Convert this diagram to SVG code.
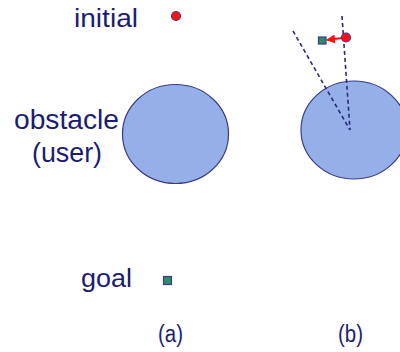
<svg xmlns="http://www.w3.org/2000/svg" width="400" height="352" viewBox="0 0 400 352">
  <style>
    .label { font-family: "Liberation Sans", Arial, sans-serif; fill: #1c1c74; }
    .obstacle { fill: #95afe8; stroke: #3b3b86; stroke-width: 1.2; }
    .start { fill: #ff1010; stroke: #4a3a8c; stroke-width: 1.2; }
    .goal { fill: #2e8b64; stroke: #3b3b86; stroke-width: 1.2; }
    .ray { stroke: #2a2a78; stroke-width: 1.6; stroke-dasharray: 4 3; fill: none; }
    .push { stroke: #ff1010; stroke-width: 2; fill: none; }
  </style>
  <defs>
    <marker id="redHead" viewBox="0 0 10 10" refX="9" refY="5" markerWidth="4.5" markerHeight="4.5" orient="auto">
      <path d="M0,0 L10,5 L0,10 z" fill="#ff1010"/>
    </marker>
  </defs>
  <rect width="400" height="352" fill="#ffffff"/>

  <!-- panel (a) -->
  <g id="label-initial">
    <text class="label" x="74" y="27" font-size="25" textLength="64" lengthAdjust="spacingAndGlyphs">initial</text>
  </g>
  <g id="start-a">
    <circle class="start" cx="176" cy="16" r="4.5"/>
  </g>
  <g id="label-obstacle">
    <text class="label" x="14" y="129" font-size="27" textLength="105" lengthAdjust="spacingAndGlyphs">obstacle</text>
    <text class="label" x="32" y="161.5" font-size="27" textLength="70" lengthAdjust="spacingAndGlyphs">(user)</text>
  </g>
  <g id="obstacle-a">
    <ellipse class="obstacle" cx="175.5" cy="134" rx="53" ry="49.5"/>
  </g>
  <g id="label-goal">
    <text class="label" x="81" y="287" font-size="25" textLength="51" lengthAdjust="spacingAndGlyphs">goal</text>
  </g>
  <g id="goal-a">
    <rect class="goal" x="163.5" y="276.5" width="8" height="8"/>
  </g>
  <g id="caption-a">
    <text class="label" x="158" y="342" font-size="23" textLength="25" lengthAdjust="spacingAndGlyphs">(a)</text>
  </g>

  <!-- panel (b) -->
  <g id="obstacle-b">
    <ellipse class="obstacle" cx="354" cy="130" rx="53" ry="49"/>
  </g>
  <g id="connectors">
    <line class="ray" x1="342" y1="16" x2="350" y2="130"/>
    <line class="ray" x1="293" y1="31" x2="350" y2="130"/>
    <line class="push" x1="342" y1="38" x2="327" y2="40" marker-end="url(#redHead)"/>
  </g>
  <g id="start-b">
    <circle class="start" cx="346" cy="37.5" r="4.5"/>
  </g>
  <g id="goal-b">
    <rect class="goal" x="318.5" y="37" width="7.5" height="7"/>
  </g>
  <g id="caption-b">
    <text class="label" x="338" y="342" font-size="23" textLength="25" lengthAdjust="spacingAndGlyphs">(b)</text>
  </g>
</svg>
